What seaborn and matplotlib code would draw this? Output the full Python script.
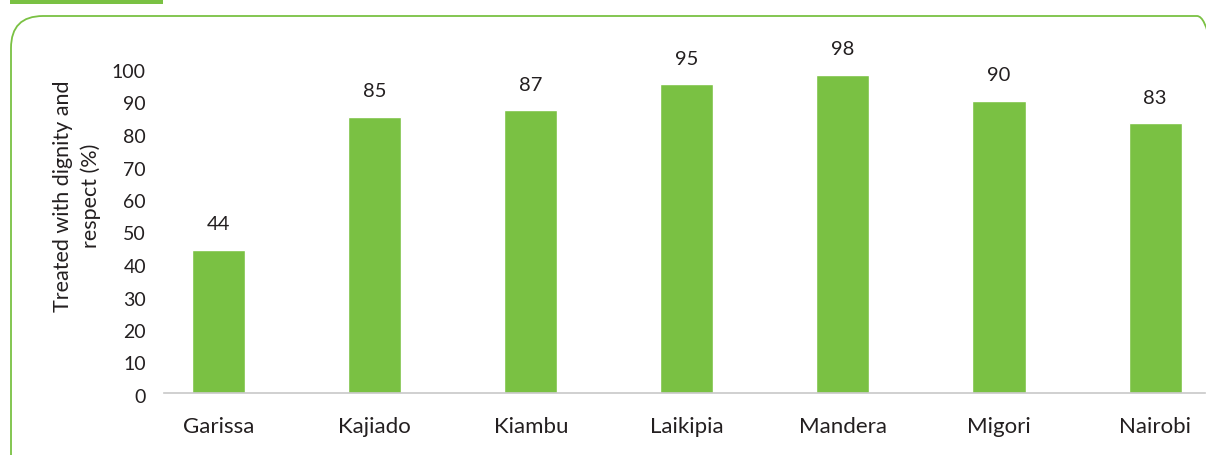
import matplotlib
matplotlib.use("Agg")
import matplotlib.pyplot as plt
import matplotlib.transforms as mtransforms
from matplotlib.patches import FancyBboxPatch, Rectangle
import seaborn as sns

counties = ["Garissa", "Kajiado", "Kiambu", "Laikipia", "Mandera", "Migori", "Nairobi"]
dignity = [44, 85, 87, 95, 98, 90, 83]
yticks = [0, 10, 20, 30, 40, 50, 60, 70, 80, 90, 100]

green = "#7AC143"
text_col = "#231F20"

sns.set_theme(style="white")
plt.rcParams["font.family"] = ["Lato", "DejaVu Sans"]

fig = plt.figure(figsize=(12.06, 4.55), dpi=100)

# frame decoration: green tab and rounded border
fig.patches.append(Rectangle((0.10, 4.51), 1.53, 0.04, transform=fig.dpi_scale_trans,
                             facecolor=green, edgecolor="none"))
fig.patches.append(FancyBboxPatch((0.11, -0.6), 12.18, 4.99,
                                  boxstyle="round,pad=0,rounding_size=0.32",
                                  transform=fig.dpi_scale_trans,
                                  facecolor="none", edgecolor=green, linewidth=1.3))

ax = fig.add_axes([164 / 1206, 62 / 455, 1041 / 1206, 325 / 455])
ax.set_facecolor("none")

sns.barplot(x=counties, y=dignity, color=green, width=0.34, saturation=1, ax=ax)

for i, v in enumerate(dignity):
    ax.annotate(str(v), (i, v), xytext=(0, 25), textcoords="offset pixels",
                ha="center", va="center", fontsize=14.5, color=text_col)

ax.set_xlim(-0.35, 6.32)
ax.set_ylim(0, 100)
ax.set_yticks(yticks)
ax.tick_params(axis="both", length=0, labelcolor=text_col)
ax.tick_params(axis="y", labelsize=14, pad=13)
ax.tick_params(axis="x", labelsize=16, pad=17)
ax.set_xlabel("")
ax.set_ylabel("")

shift = mtransforms.ScaledTranslation(0, -3 / 100, fig.dpi_scale_trans)
for lab in ax.get_yticklabels():
    lab.set_transform(lab.get_transform() + shift)

for side in ["top", "right", "left"]:
    ax.spines[side].set_visible(False)
ax.spines["bottom"].set_color("#C8C8C8")
ax.spines["bottom"].set_linewidth(1.2)

fig.text(77 / 1206, 1 - 196 / 455, "Treated with dignity and\nrespect (%)", rotation=90,
         ha="center", va="center", fontsize=15.5, color=text_col, linespacing=1.45)

fig.savefig("out.png", dpi=100)
